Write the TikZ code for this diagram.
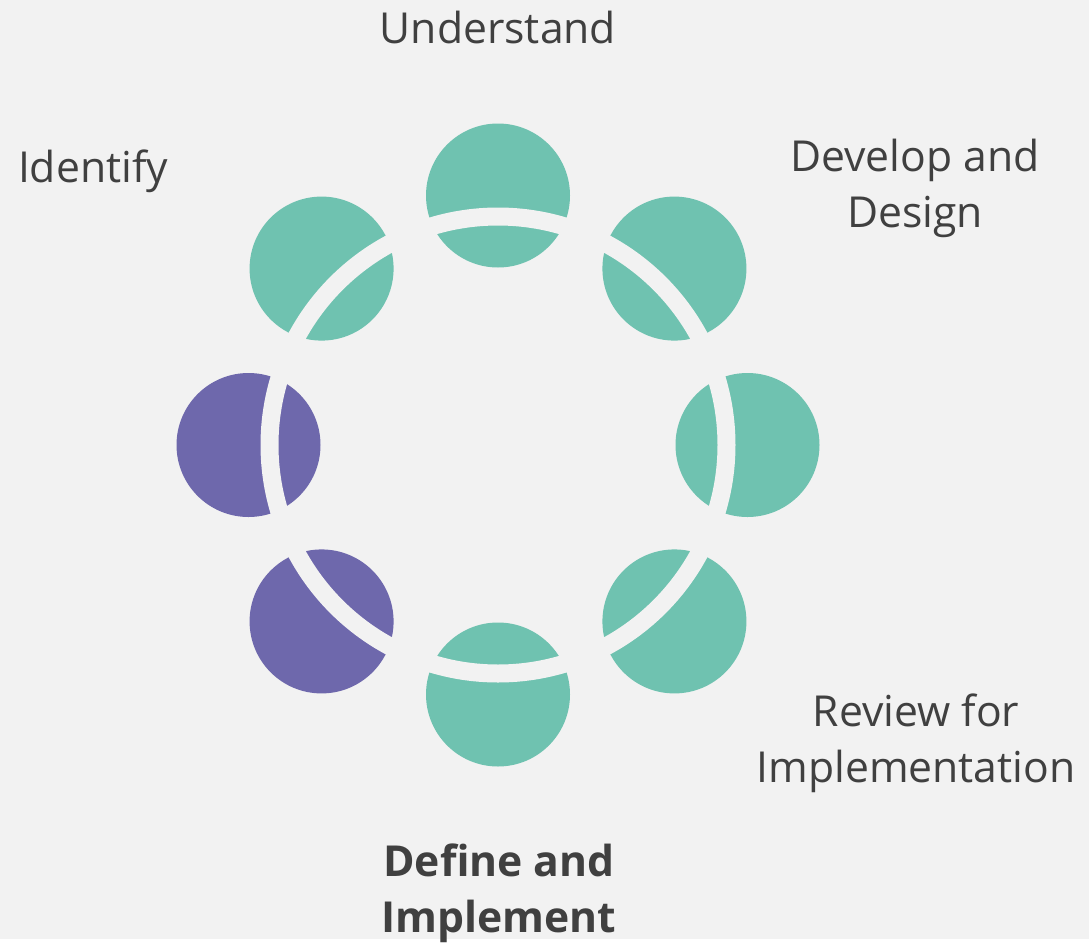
\documentclass[tikz,border=0pt]{standalone}
\usepackage{fontspec}
\setmainfont{Open Sans}
\usetikzlibrary{calc, positioning}

\definecolor{bgcol}{HTML}{F2F2F2}
\definecolor{stepteal}{HTML}{6FC2B0}
\definecolor{steppurple}{HTML}{6E68AC}
\definecolor{labelcol}{HTML}{404040}

\tikzset{
  stepdisc/.style={circle, minimum size=108pt, inner sep=0pt},
  steplabel/.style={text=labelcol, align=center, anchor=base,
    font=\fontsize{32pt}{41.5pt}\selectfont},
}

\begin{document}
\begin{tikzpicture}[x=0.75pt,y=-0.75pt]
  \fill [bgcol] (0,0) rectangle (1089,939);
  \coordinate (hub) at (498,445);
  % discs round the ring
  \foreach \a/\c/\n in {-90/stepteal/top, -45/stepteal/topright, 0/stepteal/right,
      45/stepteal/botright, 90/stepteal/bottom, 135/steppurple/botleft,
      180/steppurple/left, -135/stepteal/topleft}
    \node [stepdisc, fill=\c] (disc-\n) at ($(hub)+(\a:249.5)$) {};
  % gap cut through the discs
  \draw [bgcol, line width=13.5pt] (hub) circle [radius=228.5];
  \node [steplabel] (understand) at (498,43) {Understand};
  \node [steplabel] (identify) at (93,182) {Identify};
  \node [steplabel] (develop) at (915,227) {Develop and\\Design};
  \node [steplabel] (review) at (916,782) {Review for\\Implementation};
  \node [steplabel, font=\fontsize{32pt}{41.5pt}\selectfont\bfseries] (define) at (499,932) {Define and\\Implement};
\end{tikzpicture}
\end{document}
